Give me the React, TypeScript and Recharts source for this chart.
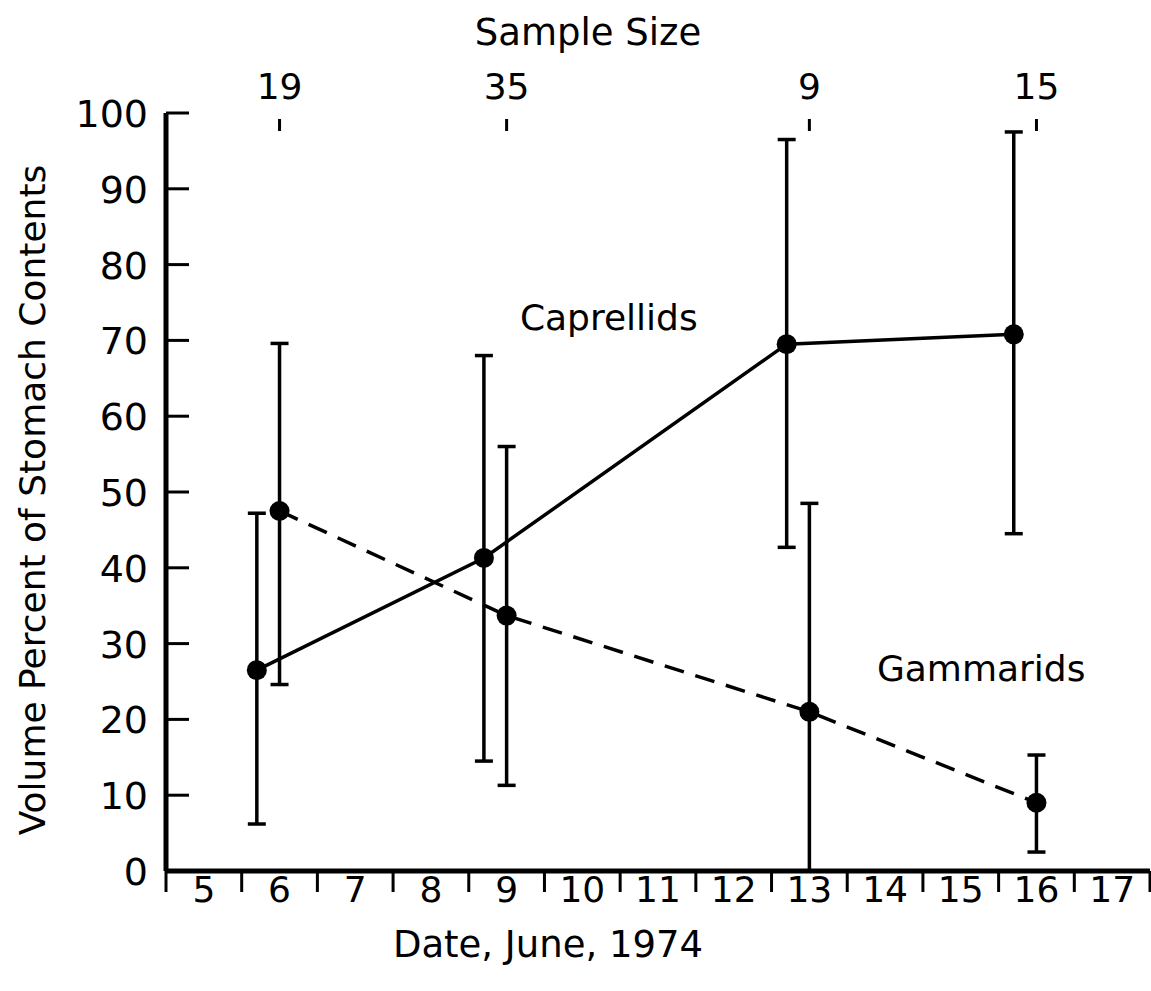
import { LineChart, Line, XAxis, YAxis, ErrorBar, ReferenceDot } from "recharts";

const FONT = "'DejaVu Sans', sans-serif";

// axis ticks
const dayLabels = [5, 6, 7, 8, 9, 10, 11, 12, 13, 14, 15, 16, 17];
const dayDividers = [4.5, 5.5, 6.5, 7.5, 8.5, 9.5, 10.5, 11.5, 12.5, 13.5, 14.5, 15.5, 16.5, 17.5];
const percentTicks = [0, 10, 20, 30, 40, 50, 60, 70, 80, 90, 100];

// sample size shown along the top
const sampleDays = [6, 9, 13, 16];
const sampleSizes = [19, 35, 9, 15];

// caprellids (solid line)
const caprellidDays = [5.7, 8.7, 12.7, 15.7];
const caprellidMean = [26.5, 41.3, 69.5, 70.8];
const caprellidLow = [6.2, 14.5, 42.7, 44.5];
const caprellidHigh = [47.2, 68, 96.5, 97.5];

// gammarids (dashed line)
const gammaridDays = [6, 9, 13, 16];
const gammaridMean = [47.5, 33.7, 21, 9];
const gammaridLow = [24.6, 11.3, 0, 2.5];
const gammaridHigh = [69.6, 56, 48.5, 15.3];

const toRows = (days: number[], mean: number[], low: number[], high: number[]) =>
  days.map((day, i) => ({
    day,
    value: mean[i],
    err: [mean[i] - low[i], high[i] - mean[i]],
  }));

const caprellids = toRows(caprellidDays, caprellidMean, caprellidLow, caprellidHigh);
const gammarids = toRows(gammaridDays, gammaridMean, gammaridLow, gammaridHigh);
const samples = sampleDays.map((day, i) => ({ day, size: sampleSizes[i] }));

const bottomTicks = [...dayDividers, ...dayLabels].sort((a, b) => a - b);

const BottomTick = ({ x, y, payload }: any) => {
  const v = payload.value;
  if (Number.isInteger(v)) {
    return (
      <text x={x} y={y + 31} textAnchor="middle" fontSize={36} fontFamily={FONT} fill="#000">
        {v}
      </text>
    );
  }
  return <line x1={x} x2={x} y1={y} y2={y + 21} stroke="#000" strokeWidth={3} />;
};

const LeftTick = ({ x, y, payload }: any) => {
  const axisX = x + 18;
  return (
    <g>
      <text x={x} y={y + 14} textAnchor="end" fontSize={38} fontFamily={FONT} fill="#000">
        {payload.value}
      </text>
      {payload.value > 0 && (
        <line x1={axisX} x2={axisX + 23} y1={y} y2={y} stroke="#000" strokeWidth={3} />
      )}
    </g>
  );
};

const TopTick = ({ x, y, payload }: any) => {
  const i = sampleDays.indexOf(payload.value);
  return (
    <g>
      <text x={x} y={y - 14} textAnchor="middle" fontSize={36} fontFamily={FONT} fill="#000">
        {sampleSizes[i]}
      </text>
      <line x1={x} x2={x} y1={y + 6} y2={y + 18} stroke="#000" strokeWidth={3} />
    </g>
  );
};

const App = () => {
  return (
    <div style={{ position: "absolute", left: 0, top: 0, background: "#fff" }}>
      <LineChart width={1151} height={991} margin={{ top: 0, right: 1, bottom: 0, left: 0 }}>
        <XAxis
          xAxisId="bottom"
          dataKey="day"
          type="number"
          domain={[4.5, 17.5]}
          ticks={bottomTicks}
          interval={0}
          allowDataOverflow
          height={120}
          tickSize={0}
          tickMargin={0}
          tickLine={false}
          tick={<BottomTick />}
          axisLine={{ stroke: "#000", strokeWidth: 5 }}
          label={({ viewBox }: any) => (
            <text
              x={viewBox.x + 382}
              y={viewBox.y + 86}
              textAnchor="middle"
              fontSize={37}
              fontFamily={FONT}
              fill="#000"
            >
              Date, June, 1974
            </text>
          )}
        />
        <XAxis
          xAxisId="top"
          orientation="top"
          dataKey="day"
          type="number"
          domain={[4.5, 17.5]}
          ticks={sampleDays}
          interval={0}
          allowDataOverflow
          height={113}
          tickSize={0}
          tickMargin={0}
          tickLine={false}
          axisLine={false}
          tick={<TopTick />}
          label={({ viewBox }: any) => (
            <text
              x={viewBox.x + 422}
              y={45}
              textAnchor="middle"
              fontSize={37}
              fontFamily={FONT}
              fill="#000"
            >
              Sample Size
            </text>
          )}
        />
        <YAxis
          type="number"
          domain={[0, 100]}
          ticks={percentTicks}
          interval={0}
          allowDataOverflow
          width={166}
          tickSize={0}
          tickMargin={18}
          tickLine={false}
          tick={<LeftTick />}
          axisLine={{ stroke: "#000", strokeWidth: 5 }}
          label={({ viewBox }: any) => {
            const cx = 32;
            const cy = viewBox.y + viewBox.height / 2 + 8;
            return (
              <text
                x={cx}
                y={cy}
                transform={`rotate(-90 ${cx} ${cy})`}
                textAnchor="middle"
                dominantBaseline="central"
                fontSize={36}
                fontFamily={FONT}
                fill="#000"
              >
                Volume Percent of Stomach Contents
              </text>
            );
          }}
        />
        {/* invisible series so the top (sample size) axis gets its ticks */}
        <Line
          xAxisId="top"
          data={samples}
          dataKey="size"
          stroke="none"
          dot={false}
          activeDot={false}
          isAnimationActive={false}
        />
        <Line
          xAxisId="bottom"
          data={caprellids}
          dataKey="value"
          type="linear"
          stroke="#000"
          strokeWidth={3.5}
          dot={{ r: 10, fill: "#000", stroke: "#000", strokeWidth: 0 }}
          activeDot={false}
          isAnimationActive={false}
        >
          <ErrorBar dataKey="err" direction="y" width={9} stroke="#000" strokeWidth={3.5} />
        </Line>
        <Line
          xAxisId="bottom"
          data={gammarids}
          dataKey="value"
          type="linear"
          stroke="#000"
          strokeWidth={3.5}
          strokeDasharray="20 12"
          dot={{ r: 10, fill: "#000", stroke: "#000", strokeWidth: 0 }}
          activeDot={false}
          isAnimationActive={false}
        >
          <ErrorBar dataKey="err" direction="y" width={9} stroke="#000" strokeWidth={3.5} />
        </Line>
        <ReferenceDot
          xAxisId="bottom"
          x={10.35}
          y={73}
          r={1}
          fill="none"
          stroke="none"
          label={{ value: "Caprellids", position: "center", fontSize: 36, fontFamily: FONT, fill: "#000" }}
        />
        <ReferenceDot
          xAxisId="bottom"
          x={15.27}
          y={26.8}
          r={1}
          fill="none"
          stroke="none"
          label={{ value: "Gammarids", position: "center", fontSize: 36, fontFamily: FONT, fill: "#000" }}
        />
      </LineChart>
    </div>
  );
};

export default App;
